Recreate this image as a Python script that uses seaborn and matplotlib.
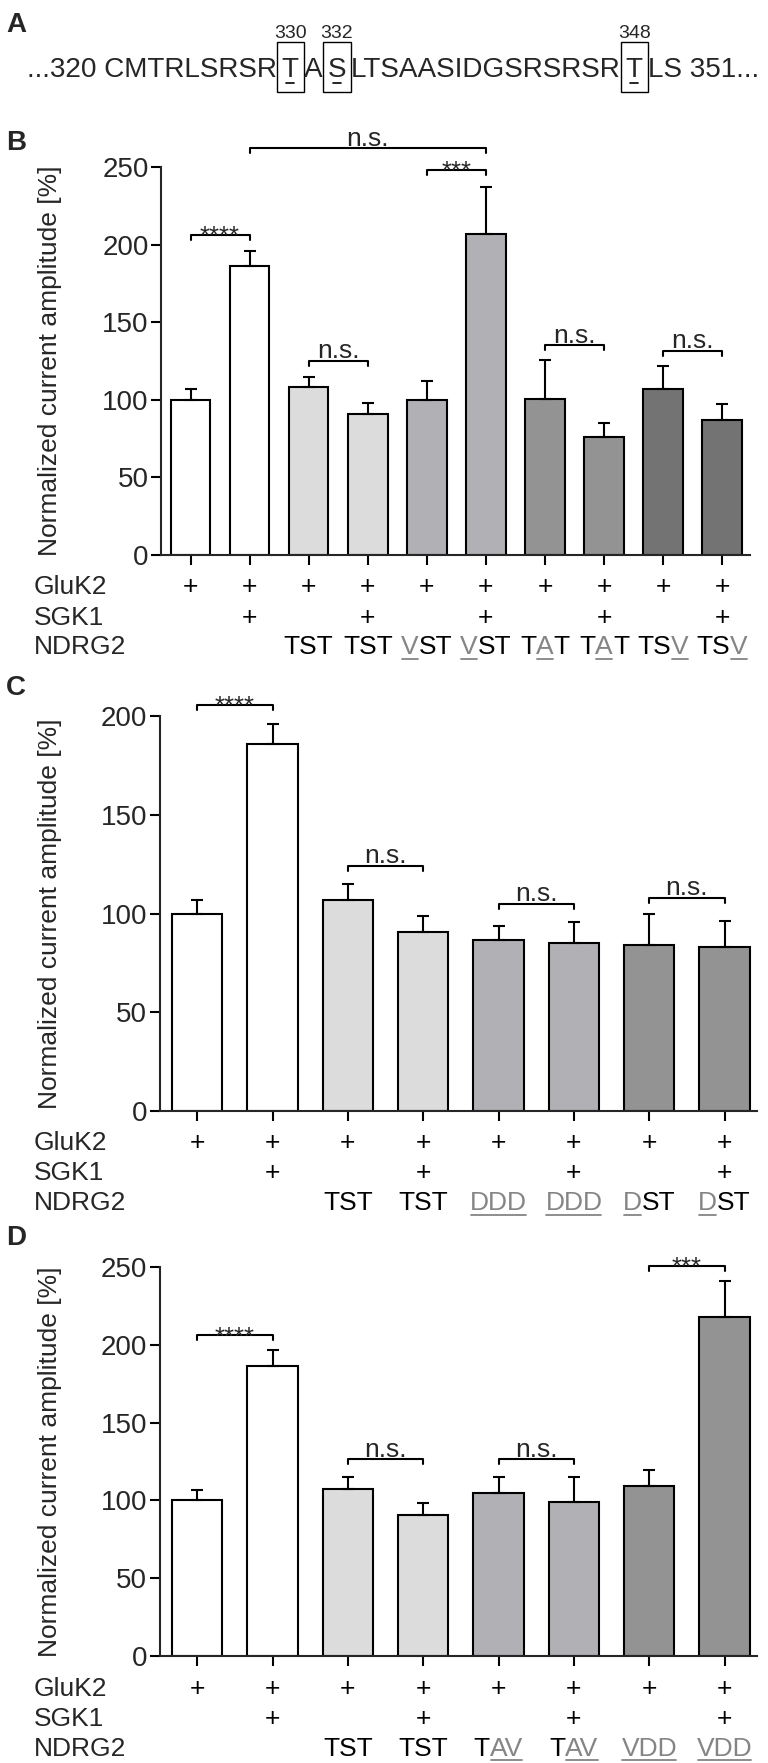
"""
NDRG2 phospho-site mutants vs GluK2 currents (panels A-D)
"""
import matplotlib
matplotlib.use('Agg')
import matplotlib.pyplot as plt
from matplotlib import font_manager
from matplotlib.patches import Rectangle
from matplotlib.lines import Line2D
import numpy as np
import seaborn as sns

W, H = 768, 1763

# ── Panel A: sequence ──
seq_parts = ['...320 CMTRLSRSR', 'T', 'A', 'S', 'LTSAASIDGSRSRSR', 'T', 'LS 351...']
seq_sites = {1: '330', 3: '332', 5: '348'}

# ── Panel B ──
b_means = [100, 186, 108, 91, 100, 207, 100.5, 76, 107, 87]
b_sem = [7, 10, 7, 7, 12, 30, 25, 9, 15, 10]
b_colors = ['#ffffff', '#ffffff', '#dcdcdc', '#dcdcdc', '#b1b0b5', '#b1b0b5',
            '#939393', '#939393', '#737373', '#737373']
b_gluk2 = ['+'] * 10
b_sgk1 = ['', '+'] * 5
b_ndrg2 = ['', '', 'TST', 'TST', 'vST', 'vST', 'TaT', 'TaT', 'TSv', 'TSv']  # lower case = mutated
b_sig = [(0, 1, 206, '****'), (1, 5, 262, 'n.s.'), (4, 5, 248, '***'),
         (2, 3, 125, 'n.s.'), (6, 7, 135, 'n.s.'), (8, 9, 131.5, 'n.s.')]

# ── Panel C ──
c_means = [100, 186, 107, 90.5, 86.7, 85.3, 84.3, 82.8]
c_sem = [6.8, 10, 8, 8, 7, 10.3, 15.4, 13.2]
c_colors = ['#ffffff', '#ffffff', '#dcdcdc', '#dcdcdc', '#b1b0b5', '#b1b0b5', '#939393', '#939393']
c_gluk2 = ['+'] * 8
c_sgk1 = ['', '+'] * 4
c_ndrg2 = ['', '', 'TST', 'TST', 'ddd', 'ddd', 'dST', 'dST']
c_sig = [(0, 1, 205.6, '****'), (2, 3, 124, 'n.s.'), (4, 5, 105, 'n.s.'), (6, 7, 108, 'n.s.')]

# ── Panel D ──
d_means = [100, 186.3, 107.5, 90.8, 104.5, 98.7, 109.2, 217.8]
d_sem = [6.9, 10.1, 7.5, 7.5, 10.5, 16.3, 10.1, 22.9]
d_colors = ['#ffffff', '#ffffff', '#dcdcdc', '#dcdcdc', '#b1b0b5', '#b1b0b5', '#939393', '#939393']
d_gluk2 = ['+'] * 8
d_sgk1 = ['', '+'] * 4
d_ndrg2 = ['', '', 'TST', 'TST', 'Tav', 'Tav', 'vdd', 'vdd']
d_sig = [(0, 1, 206, '****'), (2, 3, 126.4, 'n.s.'), (4, 5, 126.4, 'n.s.'), (6, 7, 250.5, '***')]

row_names = ['GluK2', 'SGK1', 'NDRG2']
MUT_GRAY = '#858585'

sns.set_style('ticks')
plt.rcParams['font.family'] = ['Liberation Sans', 'DejaVu Sans']
plt.rcParams['axes.linewidth'] = 1.5

fig = plt.figure(figsize=(W / 100, H / 100), dpi=100)
renderer = fig.canvas.get_renderer()


def px_text(x, y, s, **kw):
    # x, y in image pixels, origin top-left
    return fig.text(x / W, 1 - y / H, s, **kw)


def px_line(xs, ys, **kw):
    fig.add_artist(Line2D([x / W for x in xs], [1 - y / H for y in ys],
                          transform=fig.transFigure, **kw))


def wpx(t):
    return t.get_window_extent(renderer).width


# ── A ──
names = {f.name for f in font_manager.fontManager.ttflist}
seq_family = 'Liberation Sans Narrow' if 'Liberation Sans Narrow' in names else 'Liberation Sans'
pad = 5
tmp = [px_text(0, 0, p, fontsize=20, family=seq_family) for p in seq_parts]
w20 = sum(wpx(t) for t in tmp)
for t in tmp:
    t.remove()
seq_size = 20 * (733 - 2 * pad * len(seq_sites)) / w20

x = 27
for k, part in enumerate(seq_parts):
    boxed = k in seq_sites
    if boxed:
        x += pad
    t = px_text(x, 77, part, fontsize=seq_size, family=seq_family, va='baseline', ha='left')
    w = wpx(t)
    if boxed:
        fig.add_artist(Rectangle(((x - pad) / W, 1 - 92 / H), (w + 2 * pad) / W, 50 / H,
                                 transform=fig.transFigure, fill=False, ec='black', lw=1.0))
        cx = x + w / 2
        px_line([cx - 4, cx + 4], [83, 83], color='black', lw=1.2)
        px_text(cx, 38, seq_sites[k], fontsize=14, ha='center', va='baseline')
        x += w + pad
    else:
        x += w

px_text(6, 25, 'A', fontsize=20, fontweight='bold', va='center', ha='left')


def runs_of(s):
    out = []
    for ch in s:
        mut = ch.islower()
        if out and out[-1][1] == mut:
            out[-1][0] += ch.upper()
        else:
            out.append([ch.upper(), mut])
    return out


def panel(rect_px, means, sem, colors, ymax, xmax, sig, rows, letter, letter_y):
    l, t, r, b = rect_px
    ax = fig.add_axes([l / W, 1 - b / H, (r - l) / W, (b - t) / H])
    n = len(means)
    cats = [str(i) for i in range(n)]
    sns.barplot(x=cats, y=means, hue=cats, palette=dict(zip(cats, colors)), saturation=1,
                edgecolor='black', linewidth=1.5, width=0.67, legend=False, ax=ax)
    ax.errorbar(range(n), means, yerr=[np.zeros(n), sem], fmt='none', ecolor='black',
                elinewidth=1.5, capsize=4.5, capthick=1.5)
    ax.set_xlim(-0.5, xmax)
    ax.set_ylim(0, ymax)
    ax.set_yticks(range(0, ymax + 1, 50))
    ax.set_xticks(range(n), [''] * n)
    ax.set_xlabel('')
    sns.despine(ax=ax)
    ax.tick_params(axis='both', length=7, width=1.5, labelsize=20, pad=2, color='black')
    ax.set_ylabel('Normalized current amplitude [%]', fontsize=19)
    ax.yaxis.set_label_coords((62 - l) / (r - l), 0.5)

    drop = 5 * ymax / (b - t)
    for i, j, y, lab in sig:
        ax.plot([i, i, j, j], [y - drop, y, y, y - drop], color='black', lw=1.5, clip_on=False)
        star = '*' in lab
        ax.annotate(lab, ((i + j) / 2, y), xytext=(0, -6.5 if star else 2),
                    textcoords='offset points', ha='center', va='baseline',
                    fontsize=18.5 if star else 19, annotation_clip=False)

    # rows under the axis
    for k, (name, labels) in enumerate(zip(row_names, rows)):
        base = b + 30 * (k + 1) + 9.5
        px_text(34, base, name, fontsize=19, ha='left', va='baseline')
        for i, s in enumerate(labels):
            if not s:
                continue
            cx = ax.transData.transform((i, 0))[0]
            pieces = []
            for txt, mut in runs_of(s):
                tt = px_text(0, base, txt, fontsize=19, ha='left', va='baseline',
                             color=MUT_GRAY if mut else 'black')
                pieces.append((tt, wpx(tt), mut))
            xx = cx - sum(p[1] for p in pieces) / 2
            for tt, w, mut in pieces:
                tt.set_x(xx / W)
                if mut:
                    px_line([xx + 1, xx + w - 1], [base + 4, base + 4], color=MUT_GRAY, lw=1.3)
                xx += w

    px_text(6, letter_y, letter, fontsize=20, fontweight='bold', va='center', ha='left')
    return ax


panel((161, 167, 750, 555), b_means, b_sem, b_colors, 250, 9.47, b_sig,
      [b_gluk2, b_sgk1, b_ndrg2], 'B', 143)
panel((159.5, 716, 757, 1111), c_means, c_sem, c_colors, 200, 7.43, c_sig,
      [c_gluk2, c_sgk1, c_ndrg2], 'C', 688)
panel((159.5, 1267, 757, 1656), d_means, d_sem, d_colors, 250, 7.43, d_sig,
      [d_gluk2, d_sgk1, d_ndrg2], 'D', 1238)

fig.savefig('out.png', dpi=100)
